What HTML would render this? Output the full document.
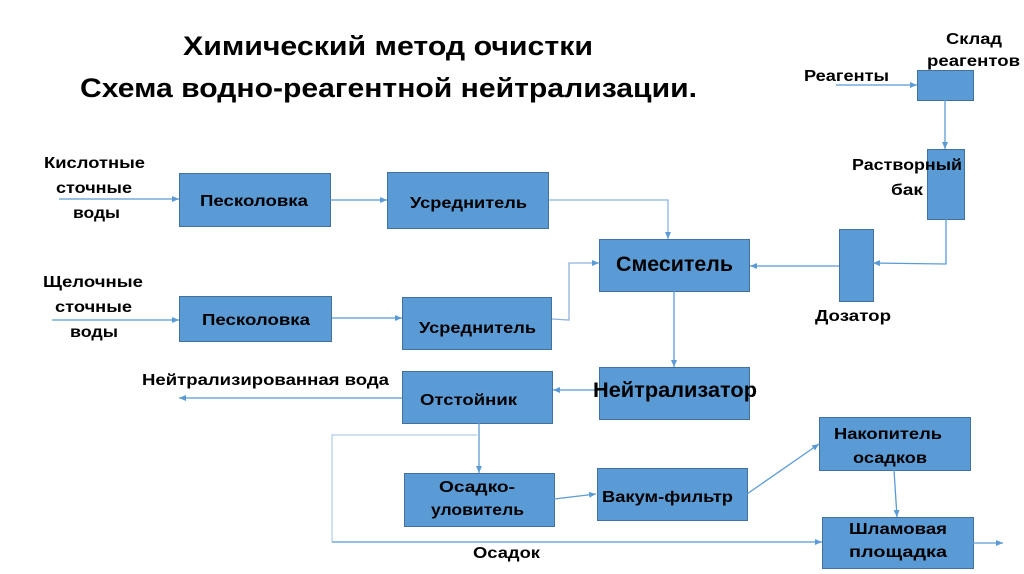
<!DOCTYPE html>
<html><head><meta charset="utf-8"><style>
html,body{margin:0;padding:0;background:#fff;}
svg{display:block;}
text{font-family:"Liberation Sans","DejaVu Sans",sans-serif;font-weight:bold;fill:#000;}
</style></head><body>
<svg width="1024" height="574" viewBox="0 0 1024 574" xmlns="http://www.w3.org/2000/svg">
<defs>
<marker id="a" markerUnits="userSpaceOnUse" markerWidth="8" markerHeight="8" refX="7" refY="4" orient="auto">
<path d="M0,1 L7,4 L0,7 z" fill="#5b9bd5"/>
</marker>
</defs>
<rect width="1024" height="574" fill="#fff"/>

<!-- title -->
<text x="183" y="55" font-size="27" textLength="410" lengthAdjust="spacingAndGlyphs">Химический метод очистки</text>
<text x="80" y="97" font-size="27" textLength="617" lengthAdjust="spacingAndGlyphs">Схема водно-реагентной нейтрализации.</text>

<!-- boxes -->
<g fill="#5b9bd5" stroke="#41719c" stroke-width="1">
<rect x="179.5" y="173.5" width="151" height="53"/>
<rect x="387.5" y="172.5" width="161" height="56"/>
<rect x="179.5" y="296.5" width="152" height="45"/>
<rect x="402.5" y="297.5" width="149" height="52"/>
<rect x="599.5" y="239.5" width="150" height="52"/>
<rect x="599.5" y="367.5" width="150" height="52"/>
<rect x="402.5" y="371.5" width="150" height="52"/>
<rect x="404.5" y="473.5" width="150" height="53"/>
<rect x="597.5" y="468.5" width="150" height="52"/>
<rect x="819.5" y="417.5" width="151" height="53"/>
<rect x="822.5" y="517.5" width="151" height="51"/>
<rect x="917.5" y="70.5" width="56" height="30"/>
<rect x="927.5" y="149.5" width="37" height="70"/>
<rect x="839.5" y="229.5" width="34" height="72"/>
</g>

<!-- connectors -->
<g fill="none" stroke="#5b9bd5" stroke-width="1.3">
<path d="M59,199 H179" marker-end="url(#a)"/>
<path d="M330,200 H387" marker-end="url(#a)"/>
<path d="M549,200 H668 V239" stroke="#8db4e2" marker-end="url(#a)"/>
<path d="M52,320 H179" marker-end="url(#a)"/>
<path d="M332,318 H402" marker-end="url(#a)"/>
<path d="M552,319 L569,320 V263 H599" stroke="#8db4e2" marker-end="url(#a)"/>
<path d="M836,85 H917" marker-end="url(#a)"/>
<path d="M945,100 V149" marker-end="url(#a)"/>
<path d="M946,219 V264 L873,263" marker-end="url(#a)"/>
<path d="M839,266 H750" marker-end="url(#a)"/>
<path d="M674,291 V367" marker-end="url(#a)"/>
<path d="M600,390 H553" marker-end="url(#a)"/>
<path d="M402,398 H179" marker-end="url(#a)"/>
<path d="M479,423 V473" marker-end="url(#a)"/>
<path d="M477,435 H332 V542" stroke="#9dc3e6" stroke-width="1"/>
<path d="M332,542 H822" marker-end="url(#a)"/>
<path d="M554,499 L596,494" marker-end="url(#a)"/>
<path d="M747,494 L819,444" marker-end="url(#a)"/>
<path d="M894,470 L897,517" marker-end="url(#a)"/>
<path d="M973,543 H1003" marker-end="url(#a)"/>
</g>

<!-- labels -->
<g font-size="16" lengthAdjust="spacingAndGlyphs">
<text x="44" y="168" textLength="101" lengthAdjust="spacingAndGlyphs">Кислотные</text>
<text x="56" y="193" textLength="76" lengthAdjust="spacingAndGlyphs">сточные</text>
<text x="73" y="218" textLength="47" lengthAdjust="spacingAndGlyphs">воды</text>
<text x="43" y="287" textLength="100" lengthAdjust="spacingAndGlyphs">Щелочные</text>
<text x="55" y="312" textLength="77" lengthAdjust="spacingAndGlyphs">сточные</text>
<text x="70" y="337" textLength="48" lengthAdjust="spacingAndGlyphs">воды</text>

<text x="200" y="206" textLength="108" lengthAdjust="spacingAndGlyphs">Песколовка</text>
<text x="202" y="325" textLength="108" lengthAdjust="spacingAndGlyphs">Песколовка</text>
<text x="410" y="208" textLength="117" lengthAdjust="spacingAndGlyphs">Усреднитель</text>
<text x="419" y="333" textLength="117" lengthAdjust="spacingAndGlyphs">Усреднитель</text>
<text x="420" y="405" textLength="97" lengthAdjust="spacingAndGlyphs">Отстойник</text>
<text x="439" y="492" textLength="76" lengthAdjust="spacingAndGlyphs">Осадко-</text>
<text x="431" y="515" textLength="93" lengthAdjust="spacingAndGlyphs">уловитель</text>
<text x="602" y="502" textLength="131" lengthAdjust="spacingAndGlyphs">Вакум-фильтр</text>
<text x="834" y="439" textLength="108" lengthAdjust="spacingAndGlyphs">Накопитель</text>
<text x="853" y="463" textLength="74" lengthAdjust="spacingAndGlyphs">осадков</text>
<text x="849" y="534" textLength="98" lengthAdjust="spacingAndGlyphs">Шламовая</text>
<text x="849" y="557" textLength="98" lengthAdjust="spacingAndGlyphs">площадка</text>
<text x="473" y="558" textLength="67" lengthAdjust="spacingAndGlyphs">Осадок</text>
<text x="142" y="385" textLength="247" lengthAdjust="spacingAndGlyphs">Нейтрализированная вода</text>
<text x="804" y="81" textLength="85" lengthAdjust="spacingAndGlyphs">Реагенты</text>
<text x="946" y="44" textLength="56" lengthAdjust="spacingAndGlyphs">Склад</text>
<text x="927" y="66" textLength="93" lengthAdjust="spacingAndGlyphs">реагентов</text>
<text x="852" y="170" textLength="110" lengthAdjust="spacingAndGlyphs">Растворный</text>
<text x="891" y="195" textLength="32" lengthAdjust="spacingAndGlyphs">бак</text>
<text x="815" y="321" textLength="76" lengthAdjust="spacingAndGlyphs">Дозатор</text>
</g>
<text x="616" y="271" font-size="21" textLength="117" lengthAdjust="spacingAndGlyphs">Смеситель</text>
<text x="593" y="397" font-size="21" textLength="164" lengthAdjust="spacingAndGlyphs">Нейтрализатор</text>
</svg>
</body></html>
